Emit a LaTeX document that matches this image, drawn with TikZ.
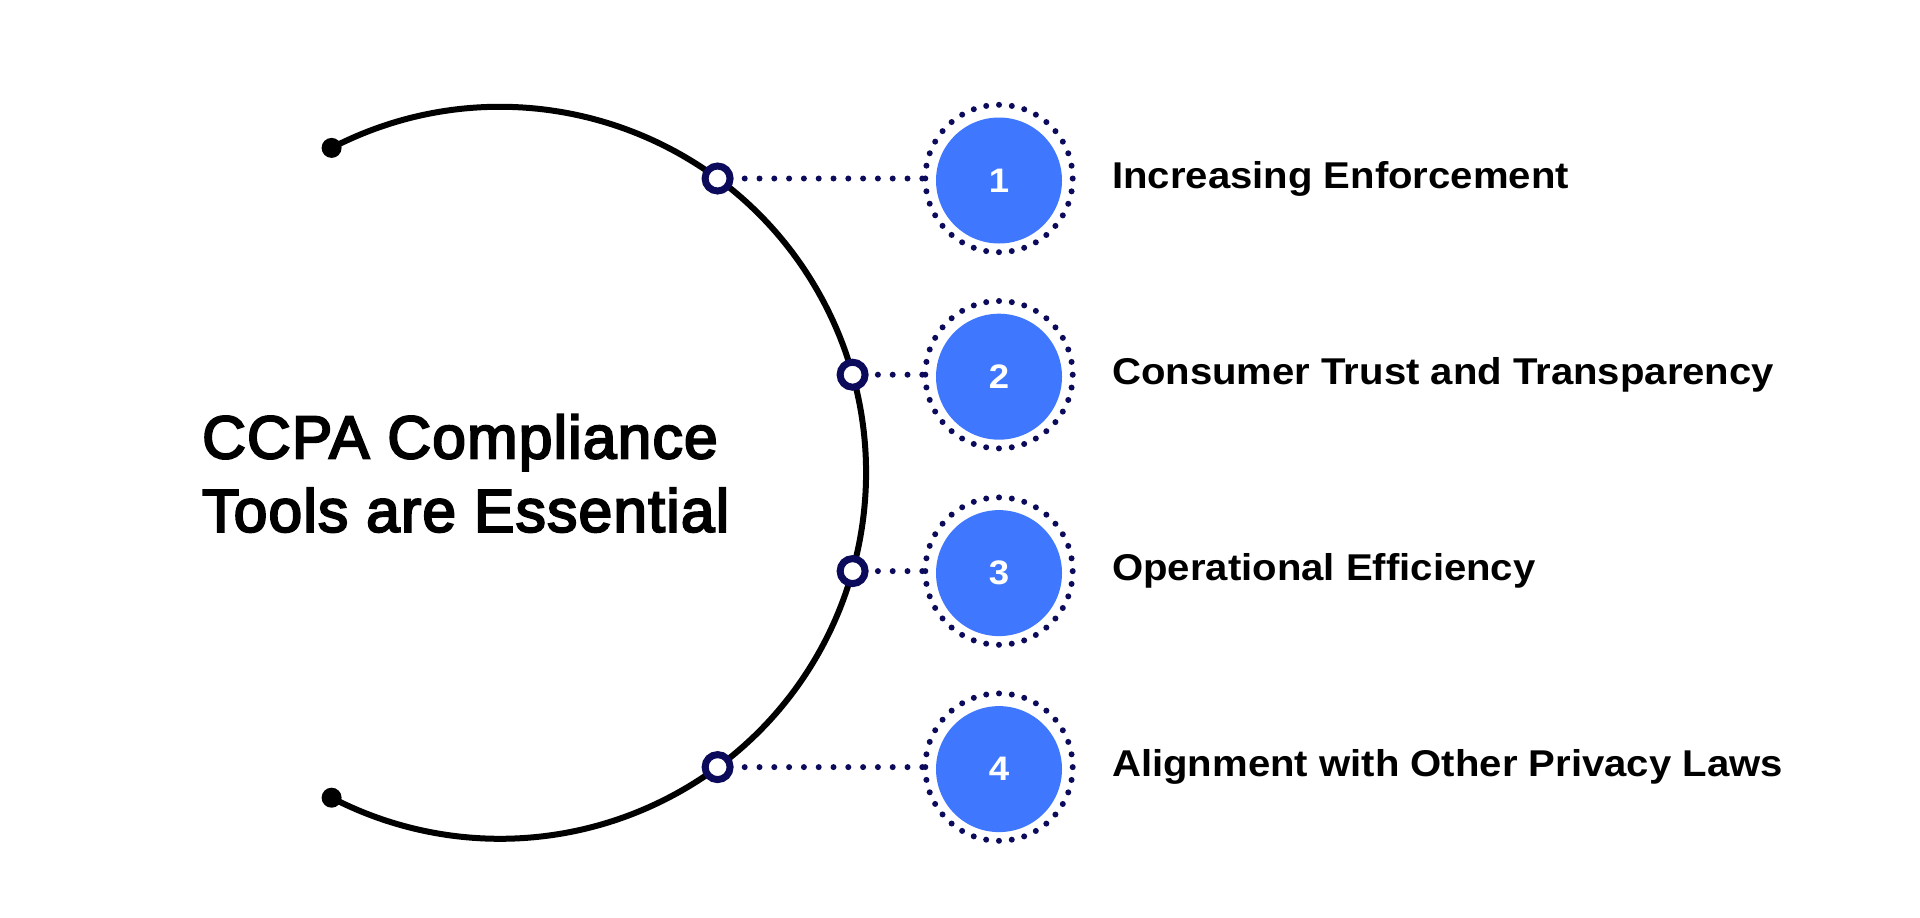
\documentclass[tikz,border=0pt]{standalone}
\usepackage{fontspec}
\setmainfont{Liberation Sans}
\newfontfamily\titlefont{Liberation Sans}[FakeBold=3.5,FakeStretch=1.0,LetterSpace=2]
\newfontfamily\itemfont{Liberation Sans}[FakeStretch=1.075]
\usetikzlibrary{calc}
\definecolor{navy}{HTML}{0C0B5B}
\definecolor{numblue}{HTML}{3F78FE}
\begin{document}
\begin{tikzpicture}[x=1pt,y=-1pt,
  arcline/.style={line width=6pt,draw=black},
  enddot/.style={circle,fill=black,inner sep=0pt,minimum size=20pt},
  joint/.style={circle,draw=navy,fill=white,line width=7pt,inner sep=0pt,minimum size=25pt},
  numcirc/.style={circle,fill=numblue,inner sep=0pt,minimum size=126pt,text=white,
    font=\itemfont\bfseries\fontsize{34}{34}\selectfont},
  ring/.style={circle,draw=navy,line width=6pt,line cap=round,
    dash pattern=on 0pt off 12.862pt,inner sep=0pt,minimum size=147.4pt},
  dotline/.style={draw=navy,line width=6pt,line cap=round,dash pattern=on 0pt off 14.8pt},
  titletext/.style={anchor=base west,inner sep=0pt,text=black,
    font=\titlefont\fontsize{60.5}{60.5}\selectfont},
  itemtext/.style={anchor=base west,inner sep=0pt,text=black,
    font=\itemfont\bfseries\fontsize{37.3}{37.3}\selectfont}]
\fill[white] (0,0) rectangle (1920,918);
\useasboundingbox (0,0) rectangle (1920,918);

% main arc
\coordinate (arcstart) at (331.6,147.9);
\draw[arcline] (arcstart) arc[start angle=-117.4,end angle=117.4,radius=366];
\node[enddot] (e1) at (331.6,147.9) {};
\node[enddot] (e2) at (331.6,797.7) {};

% joints on the arc
\node[joint] (s1) at (717.6,178.5) {};
\node[joint] (s2) at (852.6,374.7) {};
\node[joint] (s3) at (852.6,571.1) {};
\node[joint] (s4) at (717.6,767.1) {};

% number circles and rings
\foreach \i/\y in {1/178.5,2/374.7,3/571.1,4/767.1}{
  \node[ring] (r\i) at (999,\y) {};
  \node[numcirc,yshift=-2pt] (c\i) at (999,\y) {\i};
}

% dotted connectors
\draw[dotline] (r1.west) -- ($(s1.east)+(5,0)$);
\draw[dotline] (r2.west) -- ($(s2.east)+(5,0)$);
\draw[dotline] (r3.west) -- ($(s3.east)+(5,0)$);
\draw[dotline] (r4.west) -- ($(s4.east)+(5,0)$);

% title
\node[titletext] (t1) at (202,458.3) {CCPA Compliance};
\node[titletext] (t2) at (202,531.7) {Tools are Essential};

% items
\node[itemtext] (l1) at (1112,188.0) {Increasing Enforcement};
\node[itemtext] (l2) at (1112,384.2) {Consumer Trust and Transparency};
\node[itemtext] (l3) at (1112,580.6) {Operational Efficiency};
\node[itemtext] (l4) at (1112,776.6) {Alignment with Other Privacy Laws};
\end{tikzpicture}
\end{document}
